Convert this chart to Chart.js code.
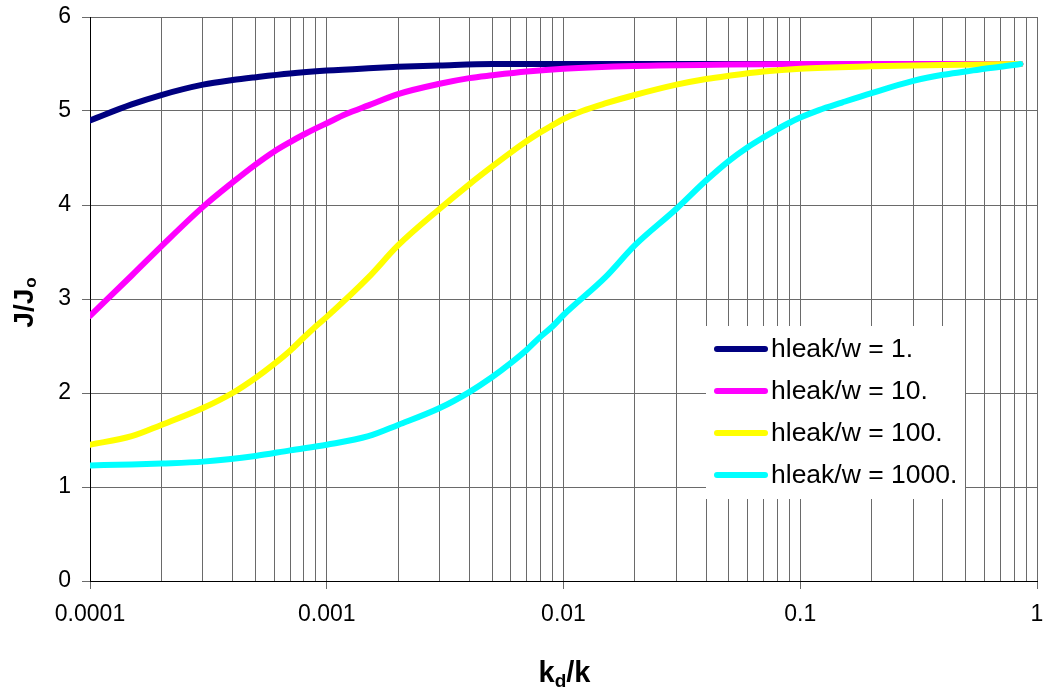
<!DOCTYPE html>
<html>
<head>
<meta charset="utf-8">
<script src="https://cdn.jsdelivr.net/npm/chart.js@4.4.1/dist/chart.umd.min.js"></script>
<style>
  html, body { margin: 0; padding: 0; background: #fff; }
  #wrap { width: 1044px; height: 687px; position: relative; }
</style>
</head>
<body>
<div id="wrap"><canvas id="c" width="1044" height="687"></canvas></div>
<script>
// ---- data ----
const seriesLabels = ['hleak/w = 1.', 'hleak/w = 10.', 'hleak/w = 100.', 'hleak/w = 1000.'];
const seriesColors = ['#000080', '#FF00FF', '#FFFF00', '#00FFFF'];

const x1 = [0.0001, 0.00015, 0.0002, 0.0003, 0.0004, 0.0005, 0.0007, 0.001, 0.0015, 0.002, 0.003, 0.005, 0.01, 0.02, 0.05, 0.1, 0.3, 0.85];
const y1 = [4.90, 5.07, 5.17, 5.28, 5.33, 5.36, 5.40, 5.43, 5.455, 5.47, 5.485, 5.50, 5.50, 5.50, 5.50, 5.50, 5.50, 5.50];

const x2 = [0.0001, 0.00015, 0.0002, 0.0003, 0.0004, 0.0005, 0.0006, 0.0007, 0.0008, 0.0009, 0.001, 0.0012, 0.0015, 0.002, 0.003, 0.004, 0.005, 0.007, 0.01, 0.02, 0.05, 0.1, 0.3, 0.85];
const y2 = [2.82, 3.25, 3.56, 3.98, 4.24, 4.43, 4.57, 4.67, 4.75, 4.815, 4.87, 4.965, 5.06, 5.18, 5.29, 5.35, 5.38, 5.42, 5.45, 5.48, 5.495, 5.50, 5.50, 5.50];

const x3 = [0.0001, 0.00015, 0.0002, 0.0003, 0.0004, 0.0005, 0.0006, 0.0007, 0.0008, 0.0009, 0.001, 0.0015, 0.002, 0.003, 0.004, 0.005, 0.006, 0.007, 0.008, 0.009, 0.01, 0.012, 0.015, 0.02, 0.03, 0.04, 0.05, 0.07, 0.1, 0.2, 0.4, 0.85];
const y3 = [1.45, 1.54, 1.66, 1.84, 2.00, 2.16, 2.31, 2.45, 2.59, 2.71, 2.81, 3.23, 3.57, 3.96, 4.22, 4.41, 4.56, 4.68, 4.775, 4.85, 4.915, 5.00, 5.08, 5.17, 5.28, 5.34, 5.375, 5.42, 5.45, 5.475, 5.49, 5.50];

const x4 = [0.0001, 0.00015, 0.0002, 0.0003, 0.0005, 0.0007, 0.001, 0.0015, 0.002, 0.003, 0.004, 0.005, 0.006, 0.007, 0.008, 0.009, 0.01, 0.015, 0.02, 0.03, 0.04, 0.05, 0.06, 0.07, 0.08, 0.09, 0.1, 0.12, 0.15, 0.2, 0.3, 0.4, 0.5, 0.6, 0.7, 0.85];
const y4 = [1.23, 1.24, 1.25, 1.27, 1.33, 1.39, 1.45, 1.54, 1.66, 1.84, 2.01, 2.17, 2.32, 2.46, 2.60, 2.71, 2.83, 3.23, 3.57, 3.96, 4.26, 4.47, 4.615, 4.72, 4.805, 4.875, 4.93, 5.01, 5.09, 5.19, 5.32, 5.385, 5.42, 5.45, 5.47, 5.50];

const xMajorTicks = [0.0001, 0.001, 0.01, 0.1, 1];
const xTickLabels = ['0.0001', '0.001', '0.01', '0.1', '1'];
const xMinorMultipliers = [2, 3, 4, 5, 6, 7, 8, 9];
const yTicks = [0, 1, 2, 3, 4, 5, 6];

// ---- helpers ----
const FONT = '"Liberation Sans", Arial, sans-serif';
Chart.defaults.font.family = FONT;
Chart.defaults.color = '#000';

function majorIndex(v) {
  for (let i = 0; i < xMajorTicks.length; i++) {
    if (Math.abs(Math.log10(v) - Math.log10(xMajorTicks[i])) < 1e-6) return i;
  }
  return -1;
}
function xGridValues() {
  const vals = [];
  xMajorTicks.forEach((d, i) => {
    vals.push(d);
    if (i < xMajorTicks.length - 1) xMinorMultipliers.forEach(m => vals.push(+(d * m).toPrecision(6)));
  });
  return vals;
}
const pts = (xs, ys) => xs.map((x, i) => ({ x: x, y: ys[i] }));
const xsAll = [x1, x2, x3, x4];
const ysAll = [y1, y2, y3, y4];

const datasets = seriesLabels.map((lab, i) => ({
  label: lab,
  data: pts(xsAll[i], ysAll[i]),
  borderColor: seriesColors[i],
  backgroundColor: seriesColors[i],
  borderWidth: 6,
  pointRadius: 0,
  fill: false,
  cubicInterpolationMode: 'monotone',
  borderCapStyle: 'round',
  borderJoinStyle: 'round',
  order: seriesLabels.length - i
}));

// custom legend + axis titles with subscripts
const decorPlugin = {
  id: 'decor',
  afterDraw(chart) {
    const ctx = chart.ctx;
    const ca = chart.chartArea;
    ctx.save();
    // legend box
    const lx = 706, ly = 326, lw = 259, lh = 173;
    ctx.fillStyle = '#fff';
    ctx.fillRect(lx, ly, lw, lh);
    chart.data.datasets.forEach((ds, i) => {
      const cy = 349 + i * 42;
      ctx.strokeStyle = ds.borderColor;
      ctx.lineWidth = 6;
      ctx.lineCap = 'round';
      ctx.beginPath();
      ctx.moveTo(717, cy);
      ctx.lineTo(765, cy);
      ctx.stroke();
      ctx.fillStyle = '#000';
      ctx.font = '26.5px ' + FONT;
      ctx.textBaseline = 'middle';
      ctx.textAlign = 'left';
      ctx.fillText(ds.label, 771, cy + 1);
    });

    // x title: k_d/k
    ctx.fillStyle = '#000';
    ctx.textBaseline = 'alphabetic';
    ctx.textAlign = 'left';
    const bigX = 'bold 29px ' + FONT, smallX = 'bold 19px ' + FONT;
    ctx.font = bigX; const wk = ctx.measureText('k').width; const wrest = ctx.measureText('/k').width;
    ctx.font = smallX; const wd = ctx.measureText('d').width;
    const tot = wk + wd + wrest;
    let sx = (ca.left + ca.right) / 2 - tot / 2 + 1;
    const by = 682;
    ctx.font = bigX; ctx.fillText('k', sx, by); sx += wk;
    ctx.font = smallX; ctx.fillText('d', sx, by + 5); sx += wd;
    ctx.font = bigX; ctx.fillText('/k', sx, by);

    // y title: J/J_o
    ctx.translate(33, 303);
    ctx.rotate(-Math.PI / 2);
    const bigY = 'bold 28px ' + FONT, smallY = 'bold 17px ' + FONT;
    ctx.font = bigY; const wj = ctx.measureText('J/J').width;
    ctx.font = smallY; const wo = ctx.measureText('o').width;
    let sy = -(wj + wo) / 2;
    ctx.font = bigY; ctx.fillText('J/J', sy, 0); sy += wj + 1;
    ctx.font = smallY; ctx.fillText('o', sy, 3);
    ctx.restore();
  }
};

new Chart(document.getElementById('c'), {
  type: 'line',
  data: { datasets: datasets },
  plugins: [decorPlugin],
  options: {
    responsive: false,
    animation: false,
    events: [],
    layout: { padding: { top: 17, left: 0, right: 7, bottom: 0 } },
    plugins: { legend: { display: false }, tooltip: { enabled: false }, title: { display: false } },
    scales: {
      x: {
        type: 'logarithmic',
        min: 0.0001,
        max: 1,
        afterBuildTicks(scale) {
          scale.ticks = xGridValues().map(v => ({ value: v, major: majorIndex(v) >= 0 }));
        },
        afterFit(scale) {
          scale.height = 106;
          scale.paddingLeft = 0; scale.paddingRight = 0; scale.paddingTop = 0; scale.paddingBottom = 0;
        },
        ticks: {
          autoSkip: false,
          maxRotation: 0,
          minRotation: 0,
          padding: 12,
          font: { size: 23 },
          color: '#000',
          callback(value) {
            const k = majorIndex(value);
            return k >= 0 ? xTickLabels[k] : '';
          }
        },
        grid: {
          color: '#6a6a6a',
          lineWidth: 1,
          tickLength: 8,
          tickColor: (c) => (c.tick && majorIndex(c.tick.value) >= 0) ? '#6a6a6a' : 'rgba(0,0,0,0)'
        },
        border: { display: true, color: '#000', width: 1 }
      },
      y: {
        type: 'linear',
        min: 0,
        max: 6,
        afterBuildTicks(scale) { scale.ticks = yTicks.map(v => ({ value: v })); },
        afterFit(scale) {
          scale.width = 90;
          scale.paddingLeft = 0; scale.paddingRight = 0; scale.paddingTop = 0; scale.paddingBottom = 0;
        },
        ticks: { padding: 11, font: { size: 23 }, color: '#000' },
        grid: { color: '#6a6a6a', lineWidth: 1, tickLength: 8, tickColor: '#6a6a6a' },
        border: { display: true, color: '#000', width: 1 }
      }
    }
  }
});
</script>
</body>
</html>
